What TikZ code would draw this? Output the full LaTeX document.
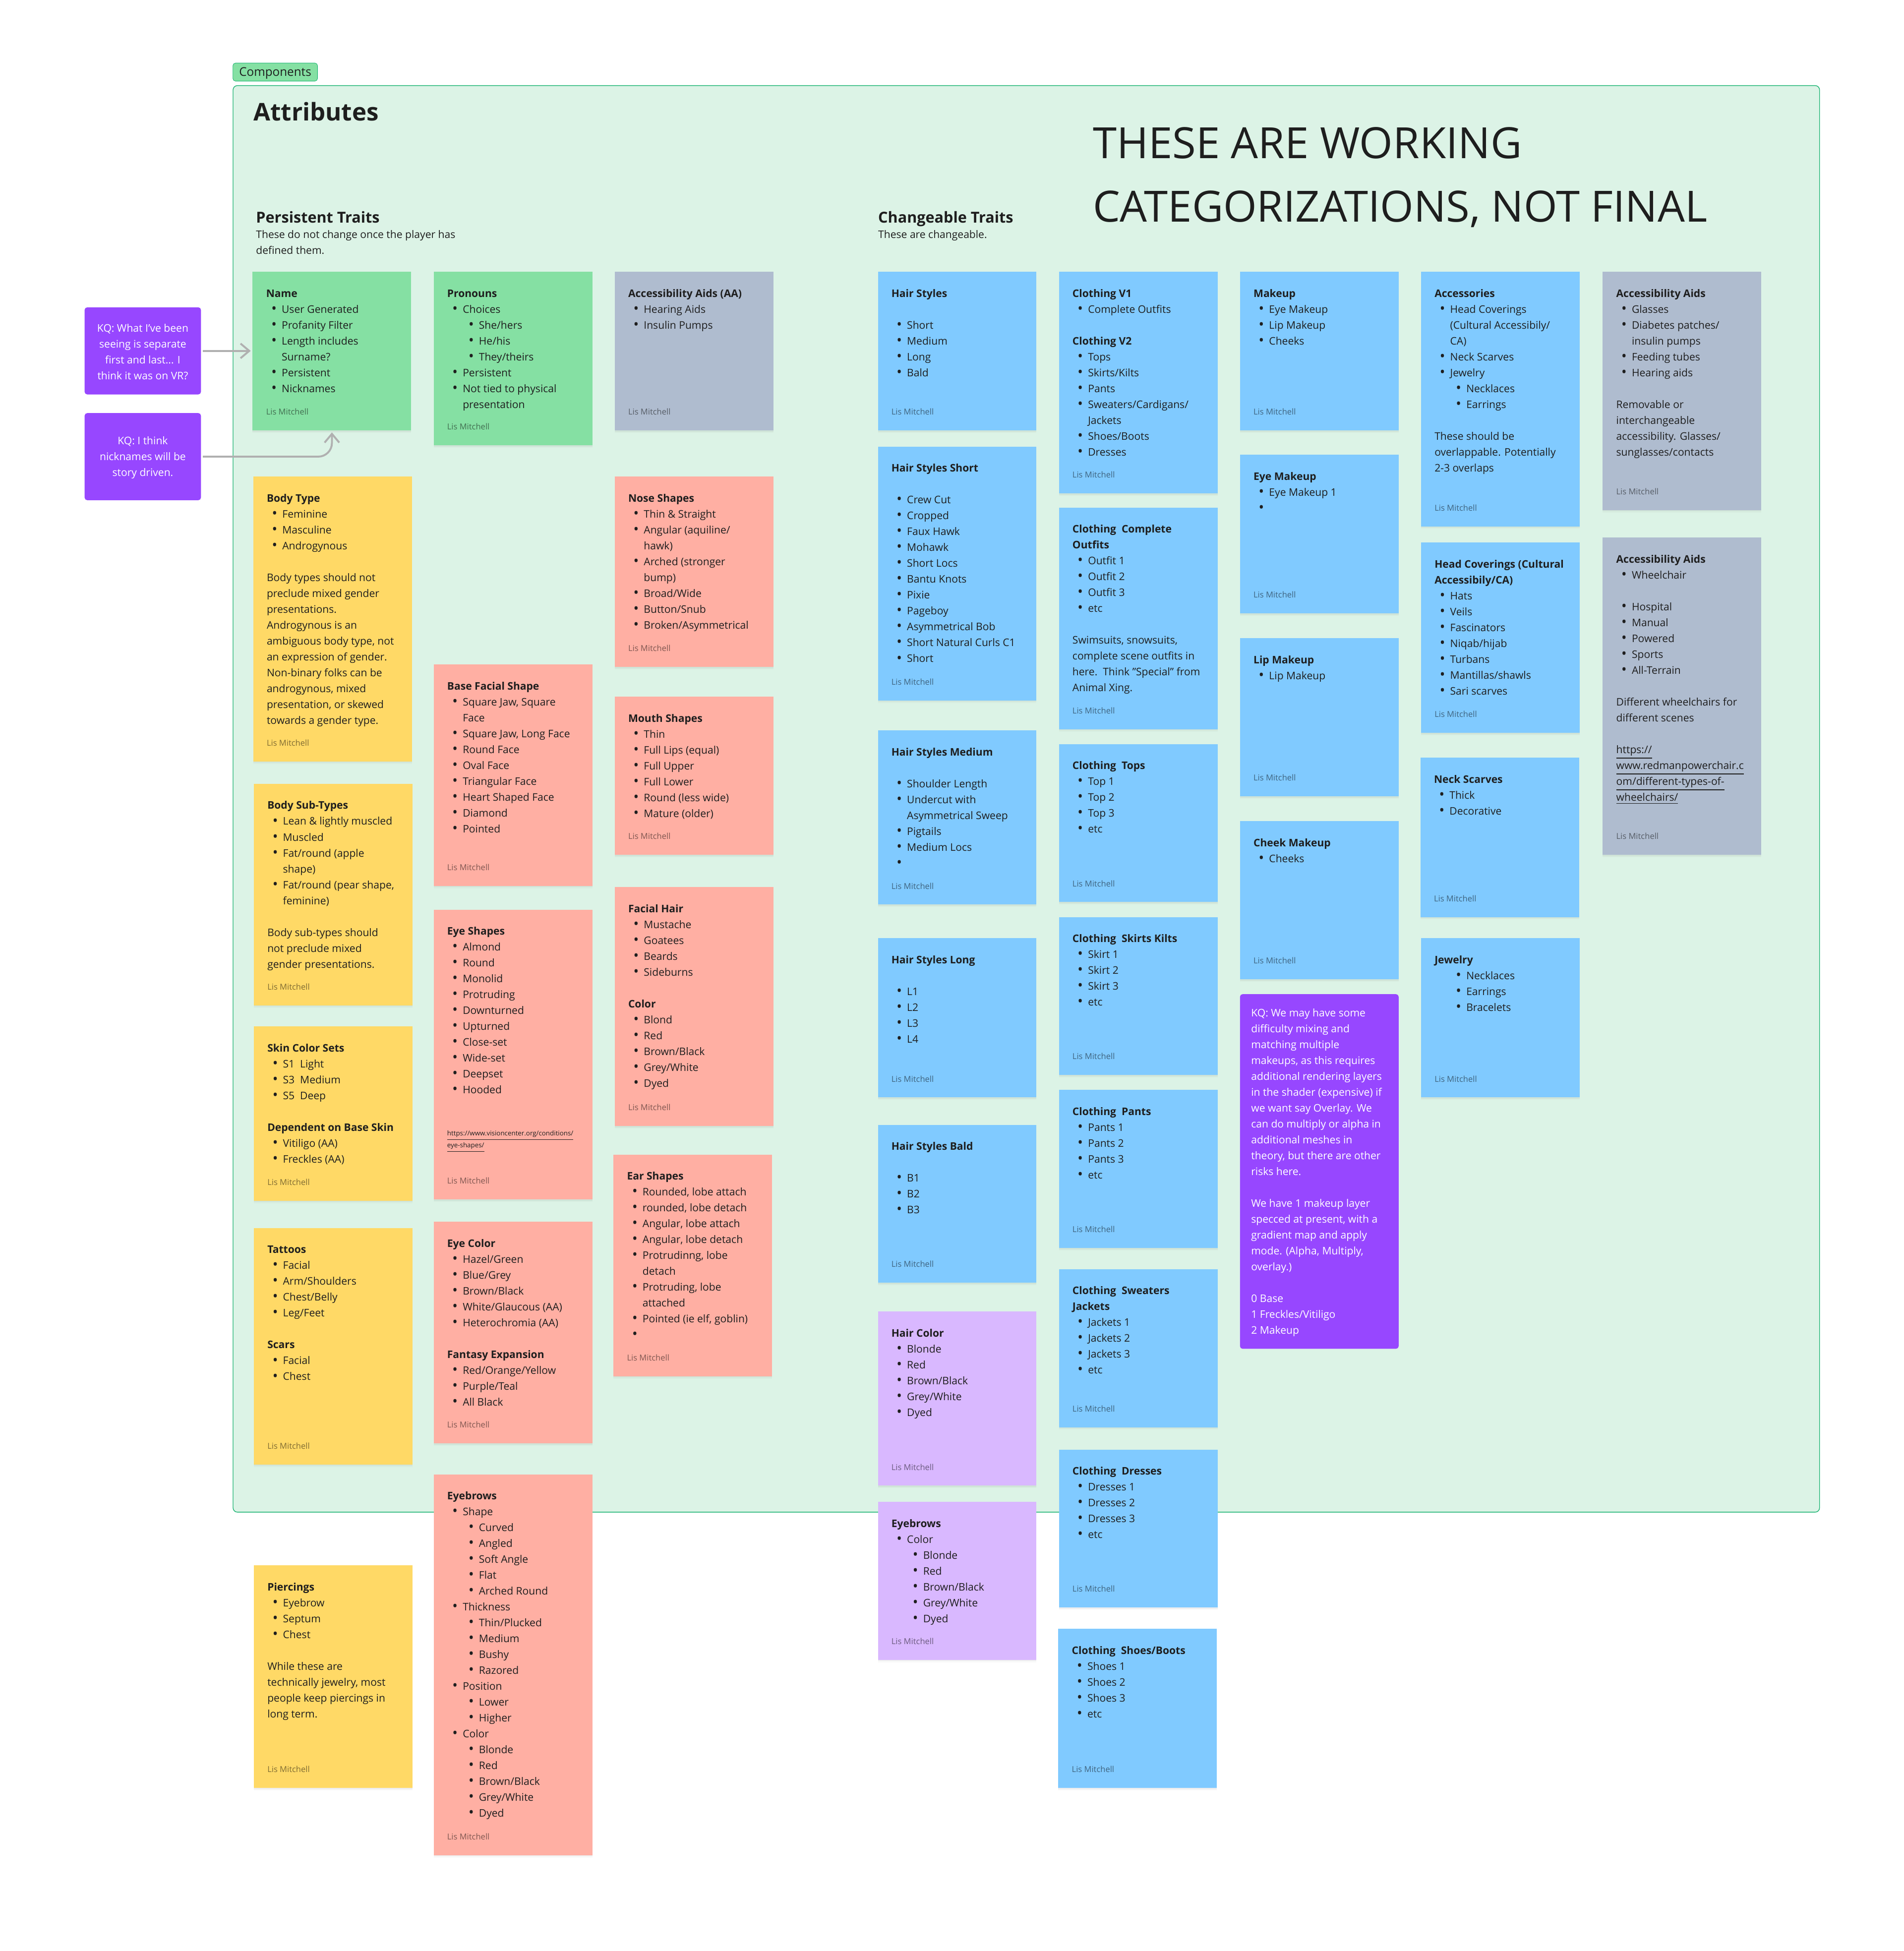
\documentclass[tikz,border=0pt]{standalone}
\usepackage{fontspec}
\setmainfont{Open Sans}
\usetikzlibrary{arrows.meta,shadows}

\definecolor{framefill}{HTML}{DCF3E6}
\definecolor{frameline}{HTML}{1BB472}
\definecolor{notegreen}{HTML}{85E0A3}
\definecolor{noteyellow}{HTML}{FFD966}
\definecolor{notered}{HTML}{FFAFA3}
\definecolor{noteblue}{HTML}{80CAFF}
\definecolor{notelilac}{HTML}{D9B8FF}
\definecolor{notegrey}{HTML}{AFBCCF}
\definecolor{kqpurple}{HTML}{9747FF}
\definecolor{inkdark}{HTML}{1E1E1E}
\definecolor{linkgrey}{HTML}{B0B0B0}

\newlength\un
\setlength\un{0.25098mm}

\tikzset{
  notebox/.style={anchor=north west,inner sep=0pt,outer sep=0pt,minimum width=127.5\un,
    drop shadow={shadow xshift=0pt,shadow yshift=-1.4pt,opacity=.05},
    drop shadow={shadow xshift=0pt,shadow yshift=-.7pt,opacity=.09}},
  notetext/.style={anchor=north west,inner sep=10.6\un,align=left,text=inkdark,
    font=\fontsize{6.0}{9.107}\selectfont},
  notefoot/.style={anchor=west,inner sep=0pt,text=black,text opacity=.5,
    font=\fontsize{4.7}{6}\selectfont},
  kqbox/.style={fill=kqpurple,rounded corners=1.5pt,inner sep=0pt,outer sep=0pt,
    anchor=north west},
  kqtext/.style={text=white,font=\fontsize{6.0}{9.107}\selectfont},
  headtext/.style={anchor=base west,inner sep=0pt,text=inkdark},
  subtext/.style={anchor=north west,inner sep=0pt,align=left,text=inkdark,
    font=\fontsize{6.0}{9.107}\selectfont},
  linkarrow/.style={draw=linkgrey,line width=1.1pt,shorten <=1.5\un,shorten >=1.5\un,
    -{Straight Barb[length=5pt,width=8.4pt,line width=1.1pt]}},
}

\newcommand{\hed}[1]{\textbf{#1}}
\newcommand{\gap}{\mbox{}}
\newcommand{\dotmark}{\makebox[0pt][c]{\raisebox{-.3pt}{\fontsize{8.4}{9}\selectfont\textbullet}}}
\newcommand{\bua}[1]{\hspace*{6.3\un}\dotmark\hspace*{6.2\un}#1}
\newcommand{\bub}[1]{\hspace*{19.3\un}\dotmark\hspace*{6.2\un}#1}
\newcommand{\cua}[1]{\hspace*{12.5\un}#1}
% one sticky: name, x, top, bottom, colour, lines
\newcommand{\sticky}[6]{%
  \node[notebox,fill=#5,minimum height={(#4-#3)*0.25098mm}] (#1) at (#2,#3) {};
  \node[notetext] (#1-text) at ([yshift=-.35pt]#1.north west) {\strut #6};
  \node[notefoot] (#1-foot) at ([xshift=10.6\un,yshift=15\un]#1.south west) {Lis Mitchell};
}

\begin{document}
\begin{tikzpicture}[x=0.25098mm,y=-0.25098mm]
\useasboundingbox (0,0) rectangle (1530,1568);

% frame and headings
\node[anchor=north west,fill=notegreen,draw=frameline,line width=.25pt,rounded corners=1.5pt,inner sep=0pt,
  minimum width=68\un,minimum height=14.5\un] (tag) at (187,50.5) {};
\node[font=\fontsize{6.9}{8}\selectfont,text=inkdark,inner sep=0pt] (tag-text) at ([yshift=-.6pt]tag.center) {Components};
\node[anchor=north west,fill=framefill,draw=frameline,line width=.4pt,rounded corners=2.5pt,inner sep=0pt,
  minimum width=1275\un,minimum height=1146.5\un] (attributes) at (187,68.5) {};
\node[headtext,font=\fontsize{14}{18}\selectfont\bfseries] (title) at (203.5,97) {Attributes};
\node[headtext,font=\fontsize{8.7}{11}\selectfont\bfseries] (persistent) at (205.5,179) {Persistent Traits};
\node[subtext] (persistent-sub) at (205.5,182.4) {\strut These do not change once the player has\\defined them.};
\node[headtext,font=\fontsize{8.7}{11}\selectfont\bfseries] (changeable) at (705.5,179) {Changeable Traits};
\node[subtext] (changeable-sub) at (705.5,182.4) {\strut These are changeable.};
\node[subtext,font=\fontsize{24.7}{36.42}\selectfont] (working) at (878,91.3) {\strut THESE ARE WORKING\\CATEGORIZATIONS, NOT FINAL};

% persistent traits
\sticky{name}{203}{218.5}{346}{notegreen}{\hed{Name}\\\bua{User Generated}\\\bua{Profanity Filter}\\\bua{Length includes}\\\cua{Surname?}\\\bua{Persistent}\\\bua{Nicknames}}
\sticky{bodytype}{203.5}{383}{612}{noteyellow}{\hed{Body Type}\\\bua{Feminine}\\\bua{Masculine}\\\bua{Androgynous}\\\gap\\Body types should not\\preclude mixed gender\\presentations.\\Androgynous is an\\ambiguous body type, not\\an expression of gender.\\Non-binary folks can be\\androgynous, mixed\\presentation, or skewed\\towards a gender type.}
\sticky{bodysub}{204}{630}{808}{noteyellow}{\hed{Body Sub-Types}\\\bua{Lean \& lightly muscled}\\\bua{Muscled}\\\bua{Fat/round (apple}\\\cua{shape)}\\\bua{Fat/round (pear shape,}\\\cua{feminine)}\\\gap\\Body sub-types should\\not preclude mixed\\gender presentations.}
\sticky{skin}{204}{825}{965}{noteyellow}{\hed{Skin Color Sets}\\\bua{S1\ \ Light}\\\bua{S3\ \ Medium}\\\bua{S5\ \ Deep}\\\gap\\\hed{Dependent on Base Skin}\\\bua{Vitiligo (AA)}\\\bua{Freckles (AA)}}
\sticky{tattoos}{204}{987}{1177}{noteyellow}{\hed{Tattoos}\\\bua{Facial}\\\bua{Arm/Shoulders}\\\bua{Chest/Belly}\\\bua{Leg/Feet}\\\gap\\\hed{Scars}\\\bua{Facial}\\\bua{Chest}}
\sticky{piercings}{204}{1258}{1437}{noteyellow}{\hed{Piercings}\\\bua{Eyebrow}\\\bua{Septum}\\\bua{Chest}\\\gap\\While these are\\technically jewelry, most\\people keep piercings in\\long term.}

\sticky{pronouns}{348.5}{218.5}{358}{notegreen}{\hed{Pronouns}\\\bua{Choices}\\\bub{She/hers}\\\bub{He/his}\\\bub{They/theirs}\\\bua{Persistent}\\\bua{Not tied to physical}\\\cua{presentation}}
\sticky{facial}{348.5}{534}{712}{notered}{\hed{Base Facial Shape}\\\bua{Square Jaw, Square}\\\cua{Face}\\\bua{Square Jaw, Long Face}\\\bua{Round Face}\\\bua{Oval Face}\\\bua{Triangular Face}\\\bua{Heart Shaped Face}\\\bua{Diamond}\\\bua{Pointed}}
\sticky{eyeshapes}{348.5}{731}{964}{notered}{\hed{Eye Shapes}\\\bua{Almond}\\\bua{Round}\\\bua{Monolid}\\\bua{Protruding}\\\bua{Downturned}\\\bua{Upturned}\\\bua{Close-set}\\\bua{Wide-set}\\\bua{Deepset}\\\bua{Hooded}}
\node[subtext,font=\fontsize{3.8}{5.4}\selectfont] (eyeshapes-link) at (359.1,907) {\strut\underline{https://www.visioncenter.org/conditions/}\\\underline{eye-shapes/}};
\sticky{eyecolor}{348.5}{982}{1160}{notered}{\hed{Eye Color}\\\bua{Hazel/Green}\\\bua{Blue/Grey}\\\bua{Brown/Black}\\\bua{White/Glaucous (AA)}\\\bua{Heterochromia (AA)}\\\gap\\\hed{Fantasy Expansion}\\\bua{Red/Orange/Yellow}\\\bua{Purple/Teal}\\\bua{All Black}}
\sticky{eyebrows}{348.5}{1185}{1491}{notered}{\hed{Eyebrows}\\\bua{Shape}\\\bub{Curved}\\\bub{Angled}\\\bub{Soft Angle}\\\bub{Flat}\\\bub{Arched Round}\\\bua{Thickness}\\\bub{Thin/Plucked}\\\bub{Medium}\\\bub{Bushy}\\\bub{Razored}\\\bua{Position}\\\bub{Lower}\\\bub{Higher}\\\bua{Color}\\\bub{Blonde}\\\bub{Red}\\\bub{Brown/Black}\\\bub{Grey/White}\\\bub{Dyed}}

\sticky{aids}{494}{218.5}{346}{notegrey}{\hed{Accessibility Aids (AA)}\\\bua{Hearing Aids}\\\bua{Insulin Pumps}}
\sticky{nose}{494}{383}{536}{notered}{\hed{Nose Shapes}\\\bua{Thin \& Straight}\\\bua{Angular (aquiline/}\\\cua{hawk)}\\\bua{Arched (stronger}\\\cua{bump)}\\\bua{Broad/Wide}\\\bua{Button/Snub}\\\bua{Broken/Asymmetrical}}
\sticky{mouth}{494}{560}{687}{notered}{\hed{Mouth Shapes}\\\bua{Thin}\\\bua{Full Lips (equal)}\\\bua{Full Upper}\\\bua{Full Lower}\\\bua{Round (less wide)}\\\bua{Mature (older)}}
\sticky{facialhair}{494}{713}{905}{notered}{\hed{Facial Hair}\\\bua{Mustache}\\\bua{Goatees}\\\bua{Beards}\\\bua{Sideburns}\\\gap\\\hed{Color}\\\bua{Blond}\\\bua{Red}\\\bua{Brown/Black}\\\bua{Grey/White}\\\bua{Dyed}}
\sticky{ear}{493}{928}{1106}{notered}{\hed{Ear Shapes}\\\bua{Rounded, lobe attach}\\\bua{rounded, lobe detach}\\\bua{Angular, lobe attach}\\\bua{Angular, lobe detach}\\\bua{Protrudinng, lobe}\\\cua{detach}\\\bua{Protruding, lobe}\\\cua{attached}\\\bua{Pointed (ie elf, goblin)}\\\bua{}}

% changeable traits
\sticky{hair}{705.5}{218.5}{346}{noteblue}{\hed{Hair Styles}\\\gap\\\bua{Short}\\\bua{Medium}\\\bua{Long}\\\bua{Bald}}
\sticky{hairshort}{705.5}{359}{563}{noteblue}{\hed{Hair Styles Short}\\\gap\\\bua{Crew Cut}\\\bua{Cropped}\\\bua{Faux Hawk}\\\bua{Mohawk}\\\bua{Short Locs}\\\bua{Bantu Knots}\\\bua{Pixie}\\\bua{Pageboy}\\\bua{Asymmetrical Bob}\\\bua{Short Natural Curls C1}\\\bua{Short}}
\sticky{hairmedium}{705.5}{587}{727}{noteblue}{\hed{Hair Styles Medium}\\\gap\\\bua{Shoulder Length}\\\bua{Undercut with}\\\cua{Asymmetrical Sweep}\\\bua{Pigtails}\\\bua{Medium Locs}\\\bua{}}
\sticky{hairlong}{705.5}{754}{882}{noteblue}{\hed{Hair Styles Long}\\\gap\\\bua{L1}\\\bua{L2}\\\bua{L3}\\\bua{L4}}
\sticky{hairbald}{705.5}{904}{1031}{noteblue}{\hed{Hair Styles Bald}\\\gap\\\bua{B1}\\\bua{B2}\\\bua{B3}}
\sticky{haircolor}{705.5}{1054}{1194}{notelilac}{\hed{Hair Color}\\\bua{Blonde}\\\bua{Red}\\\bua{Brown/Black}\\\bua{Grey/White}\\\bua{Dyed}}
\sticky{browcolor}{705.5}{1207}{1334}{notelilac}{\hed{Eyebrows}\\\bua{Color}\\\bub{Blonde}\\\bub{Red}\\\bub{Brown/Black}\\\bub{Grey/White}\\\bub{Dyed}}

\sticky{clothing}{851}{218.5}{396.5}{noteblue}{\hed{Clothing V1}\\\bua{Complete Outfits}\\\gap\\\hed{Clothing V2}\\\bua{Tops}\\\bua{Skirts/Kilts}\\\bua{Pants}\\\bua{Sweaters/Cardigans/}\\\cua{Jackets}\\\bua{Shoes/Boots}\\\bua{Dresses}}
\sticky{outfits}{851}{408}{586}{noteblue}{\hed{Clothing\ \ Complete}\\\hed{Outfits}\\\bua{Outfit 1}\\\bua{Outfit 2}\\\bua{Outfit 3}\\\bua{etc}\\\gap\\Swimsuits, snowsuits,\\complete scene outfits in\\here.\ \ Think "Special" from\\Animal Xing.}
\sticky{tops}{851}{598}{725}{noteblue}{\hed{Clothing\ \ Tops}\\\bua{Top 1}\\\bua{Top 2}\\\bua{Top 3}\\\bua{etc}}
\sticky{skirts}{851}{737}{864}{noteblue}{\hed{Clothing\ \ Skirts Kilts}\\\bua{Skirt 1}\\\bua{Skirt 2}\\\bua{Skirt 3}\\\bua{etc}}
\sticky{pants}{851}{876}{1003}{noteblue}{\hed{Clothing\ \ Pants}\\\bua{Pants 1}\\\bua{Pants 2}\\\bua{Pants 3}\\\bua{etc}}
\sticky{sweaters}{851}{1020}{1147}{noteblue}{\hed{Clothing\ \ Sweaters}\\\hed{Jackets}\\\bua{Jackets 1}\\\bua{Jackets 2}\\\bua{Jackets 3}\\\bua{etc}}
\sticky{dresses}{851}{1165}{1292}{noteblue}{\hed{Clothing\ \ Dresses}\\\bua{Dresses 1}\\\bua{Dresses 2}\\\bua{Dresses 3}\\\bua{etc}}
\sticky{shoes}{850.5}{1309}{1437}{noteblue}{\hed{Clothing\ \ Shoes/Boots}\\\bua{Shoes 1}\\\bua{Shoes 2}\\\bua{Shoes 3}\\\bua{etc}}

\sticky{makeup}{996.5}{218.5}{346}{noteblue}{\hed{Makeup}\\\bua{Eye Makeup}\\\bua{Lip Makeup}\\\bua{Cheeks}}
\sticky{eyemakeup}{996.5}{365.5}{493}{noteblue}{\hed{Eye Makeup}\\\bua{Eye Makeup 1}\\\bua{}}
\sticky{lipmakeup}{996.5}{513}{640}{noteblue}{\hed{Lip Makeup}\\\bua{Lip Makeup}}
\sticky{cheekmakeup}{996.5}{660}{787}{noteblue}{\hed{Cheek Makeup}\\\bua{Cheeks}}

\sticky{accessories}{1142}{218.5}{423}{noteblue}{\hed{Accessories}\\\bua{Head Coverings}\\\cua{(Cultural Accessibily/}\\\cua{CA)}\\\bua{Neck Scarves}\\\bua{Jewelry}\\\bub{Necklaces}\\\bub{Earrings}\\\gap\\These should be\\overlappable. Potentially\\2-3 overlaps}
\sticky{headcover}{1142}{436}{589}{noteblue}{\hed{Head Coverings (Cultural}\\\hed{Accessibily/CA)}\\\bua{Hats}\\\bua{Veils}\\\bua{Fascinators}\\\bua{Niqab/hijab}\\\bua{Turbans}\\\bua{Mantillas/shawls}\\\bua{Sari scarves}}
\sticky{neck}{1141.5}{609}{737}{noteblue}{\hed{Neck Scarves}\\\bua{Thick}\\\bua{Decorative}}
\sticky{jewelry}{1142}{754}{882}{noteblue}{\hed{Jewelry}\\\bub{Necklaces}\\\bub{Earrings}\\\bub{Bracelets}}

\sticky{aidsb}{1288}{218.5}{410}{notegrey}{\hed{Accessibility Aids}\\\bua{Glasses}\\\bua{Diabetes patches/}\\\cua{insulin pumps}\\\bua{Feeding tubes}\\\bua{Hearing aids}\\\gap\\Removable or\\interchangeable\\accessibility. Glasses/\\sunglasses/contacts}
\sticky{aidsc}{1288}{432}{687}{notegrey}{\hed{Accessibility Aids}\\\bua{Wheelchair}\\\gap\\\bua{Hospital}\\\bua{Manual}\\\bua{Powered}\\\bua{Sports}\\\bua{All-Terrain}\\\gap\\Different wheelchairs for\\different scenes\\\gap\\\underline{https://}\\\underline{www.redmanpowerchair.c}\\\underline{om/different-types-of-}\\\underline{wheelchairs/}}

% KQ remarks
\node[kqbox,minimum width=127.5\un,minimum height=285\un] (kqmix) at (996.5,799) {};
\node[kqtext,anchor=north west,inner sep=8.7\un,align=left] (kqmix-text) at (kqmix.north west) {\strut KQ: We may have some\\difficulty mixing and\\matching multiple\\makeups, as this requires\\additional rendering layers\\in the shader (expensive) if\\we want say Overlay. We\\can do multiply or alpha in\\additional meshes in\\theory, but there are other\\risks here.\\\gap\\We have 1 makeup layer\\specced at present, with a\\gradient map and apply\\mode. (Alpha, Multiply,\\overlay.)\\\gap\\0 Base\\1 Freckles/Vitiligo\\2 Makeup};
\node[kqbox,minimum width=93.5\un,minimum height=70\un] (kqfirst) at (68,247) {};
\node[kqtext,align=center,inner sep=0pt] (kqfirst-text) at ([yshift=-.6pt]kqfirst.center) {KQ: What I've been\\seeing is separate\\first and last... I\\think it was on VR?};
\node[kqbox,minimum width=93.5\un,minimum height=70\un] (kqnick) at (68,332) {};
\node[kqtext,align=center,inner sep=0pt] (kqnick-text) at ([yshift=-.7pt]kqnick.center) {KQ: I think\\nicknames will be\\story driven.};

\draw[linkarrow] (kqfirst.east) -- (kqfirst.east -| name.west);
\draw[linkarrow,rounded corners=11\un] (kqnick.east) -| (name.south);
\end{tikzpicture}
\end{document}
